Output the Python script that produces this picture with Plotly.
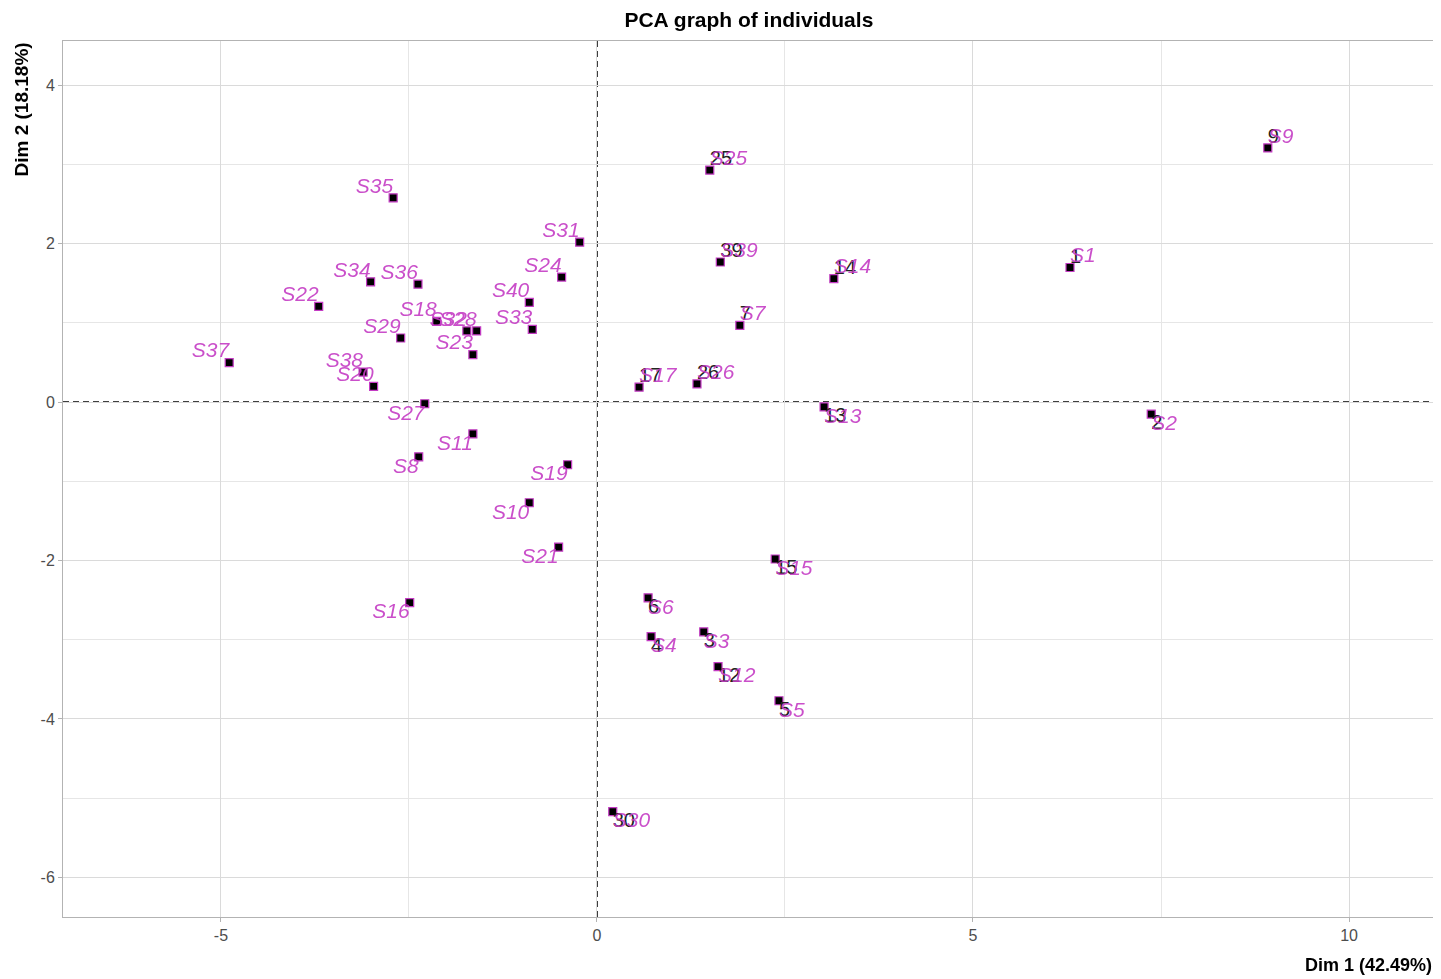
import plotly.graph_objects as go

names = [f"S{i}" for i in range(1, 41)]
dim1 = [6.29, 7.37, 1.42, 0.72, 2.42, 0.68, 1.90, -2.37, 8.92, -0.90,
        -1.65, 1.61, 3.02, 3.15, 2.37, -2.49, 0.56, -2.13, -0.39, -2.97,
        -0.51, -3.70, -1.65, -0.47, 1.50, 1.33, -2.29, -1.60, -2.61, 0.21,
        -0.23, -1.73, -0.86, -3.01, -2.71, -2.38, -4.89, -3.11, 1.64, -0.90]
dim2 = [1.70, -0.15, -2.90, -2.96, -3.77, -2.47, 0.97, -0.69, 3.21, -1.27,
        -0.40, -3.34, -0.06, 1.56, -1.98, -2.53, 0.19, 1.02, -0.79, 0.20,
        -1.83, 1.21, 0.60, 1.58, 2.93, 0.23, -0.02, 0.90, 0.81, -5.17,
        2.02, 0.90, 0.92, 1.52, 2.58, 1.49, 0.50, 0.38, 1.77, 1.26]
# individuals that also carry a plain numeric label
numbered = [1, 2, 3, 4, 5, 6, 7, 9, 12, 13, 14, 15, 17, 25, 26, 30, 39]

x_ticks = [-5, 0, 5, 10]
x_ticktext = ["-5", "0", "5", "10"]
y_ticks = [-6, -4, -2, 0, 2, 4]
y_ticktext = ["-6", "-4", "-2", "0", "2", "4"]

# label placement (style)
def pos(i):
    x, y = dim1[i], dim2[i]
    if i + 1 in (27,):
        return "bottom left"
    if x > 0:
        return "top right" if y > 0.1 else "bottom right"
    return "top left" if y > 0.1 else "bottom left"

positions = [pos(i) for i in range(40)]

MAG = "#C43CC4"
FONT = "Liberation Sans, Arial, sans-serif"

fig = go.Figure()

fig.add_trace(go.Scatter(
    x=dim1, y=dim2, mode="markers",
    marker=dict(symbol="square", size=8, color="black",
                line=dict(color=MAG, width=1.2)),
    hoverinfo="skip", showlegend=False))

idx = [n - 1 for n in numbered]
fig.add_trace(go.Scatter(
    x=[dim1[i] for i in idx], y=[dim2[i] for i in idx], mode="text",
    text=[str(i + 1) for i in idx],
    textposition=[positions[i] for i in idx],
    textfont=dict(family=FONT, size=20, color="#222222"),
    hoverinfo="skip", showlegend=False))

fig.add_trace(go.Scatter(
    x=dim1, y=dim2, mode="text", text=names,
    textposition=positions,
    textfont=dict(family=FONT, size=21, color=MAG, style="italic"),
    opacity=0.9, hoverinfo="skip", showlegend=False))

fig.add_hline(y=0, line=dict(color="black", width=1.6, dash="6px,4px"), layer="below")
fig.add_vline(x=0, line=dict(color="black", width=1.6, dash="6px,4px"), layer="below")

fig.update_layout(
    width=1433, height=971,
    margin=dict(l=55, r=7, t=33, b=62),
    plot_bgcolor="white", paper_bgcolor="white",
    font=dict(family=FONT),
    title=dict(text="<b>PCA graph of individuals</b>", x=0.517, xanchor="center",
               y=0.9885, yanchor="middle", font=dict(size=21, color="black")),
    xaxis=dict(range=[-7.1, 11.13], tickvals=x_ticks, ticktext=x_ticktext,
               zeroline=False,
               showgrid=True, gridcolor="#DADADA", gridwidth=1,
               minor=dict(tick0=0, dtick=2.5, showgrid=True, gridcolor="#E6E6E6", gridwidth=1),
               showline=True, linecolor="#B3B3B3", linewidth=1, mirror=True,
               ticks="outside", ticklen=4, tickcolor="#B3B3B3",
               tickfont=dict(size=16, color="#4D4D4D")),
    yaxis=dict(range=[-6.5, 4.56], tickvals=y_ticks, ticktext=y_ticktext,
               zeroline=False,
               showgrid=True, gridcolor="#DADADA", gridwidth=1,
               minor=dict(tick0=0, dtick=1, showgrid=True, gridcolor="#E6E6E6", gridwidth=1),
               showline=True, linecolor="#B3B3B3", linewidth=1, mirror=True,
               ticks="outside", ticklen=4, tickcolor="#B3B3B3",
               tickfont=dict(size=16, color="#4D4D4D")),
    annotations=[
        dict(text="<b>Dim 1 (42.49%)</b>", xref="paper", yref="paper",
             x=1, y=0, xanchor="right", yanchor="top", yshift=-36,
             showarrow=False, font=dict(size=18, color="black")),
        dict(text="<b>Dim 2 (18.18%)</b>", xref="paper", yref="paper",
             x=0, y=1, xanchor="right", yanchor="top", xshift=-30,
             textangle=-90, showarrow=False, font=dict(size=19, color="black")),
    ],
)

fig.write_html("out.html")
